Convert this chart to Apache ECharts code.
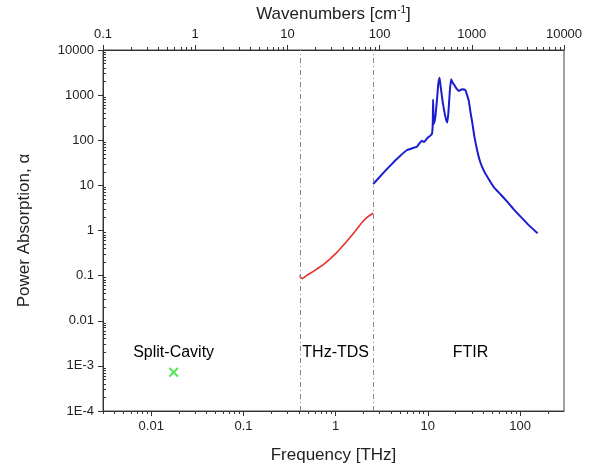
<!DOCTYPE html>
<html><head><meta charset="utf-8">
<script src="https://cdn.jsdelivr.net/npm/echarts@6/dist/echarts.min.js"></script>
<style>html,body{margin:0;padding:0;background:#fff}#c{width:593px;height:469px}</style>
</head><body><div id="c"></div>
<script>
// ---- data ----
const thzFreq  = [0.405, 0.436, 0.483, 0.59, 0.758, 0.975, 1.254, 1.612, 1.922, 2.236, 2.55];
const thzAlpha = [0.10, 0.086, 0.10, 0.129, 0.184, 0.292, 0.511, 0.94, 1.49, 2.02, 2.41];

const ftirFreq  = [2.55, 3.0, 3.45, 3.89, 4.4, 5.0, 5.91, 7.0, 7.6, 8.1, 8.6, 9.1, 10.0, 10.6, 11.1, 11.3, 11.4, 11.6, 12.0, 12.5, 13.0, 13.4, 13.8, 14.5, 15.5, 16.2, 16.7, 17.3, 17.9, 18.5, 19.1, 20.0, 21.7, 23.5, 25.5, 26.8, 27.8, 29.0, 30.3, 32.0, 34.4, 37.0, 40.6, 46.0, 52.2, 62.0, 73.0, 86.0, 102, 125, 155];
const ftirAlpha = [10.7, 15.3, 21, 27.1, 35, 45, 60, 68, 72, 85, 97, 92, 115, 125, 140, 230, 800, 230, 300, 700, 1800, 2440, 1500, 700, 330, 247, 400, 1200, 2249, 1900, 1742, 1500, 1237, 1352, 1295, 960, 744, 420, 250, 120, 58, 33, 21, 13.5, 9.0, 6.2, 4.3, 2.9, 2.0, 1.3, 0.87];

const splitFreq  = [0.0175];
const splitAlpha = [0.00072];

const regionLines = [0.405, 2.55];           // THz boundaries
const regionNames = ['Split-Cavity', 'THz-TDS', 'FTIR'];
const regionNameFreq = [0.0175, 1.0, 29];
const regionNameAlpha = [0.0020, 0.0020, 0.0020];

const freqTicks = [0.01, 0.1, 1, 10, 100];
const waveTicks = [0.1, 1, 10, 100, 1000, 10000];
const alphaTicks = [1e-4, 1e-3, 0.01, 0.1, 1, 10, 100, 1000, 10000];
const alphaTickLabels = ['1E-4', '1E-3', '0.01', '0.1', '1', '10', '100', '1000', '10000'];

const CM_PER_THZ = 33.356;
const waveMin = 0.1, waveMax = 10000;
const freqMin = waveMin / CM_PER_THZ, freqMax = waveMax / CM_PER_THZ;

function minorTicks(lo, hi) {
  const out = [];
  for (let e = Math.floor(Math.log10(lo)) ; e <= Math.ceil(Math.log10(hi)); e++) {
    for (let m = 2; m <= 9; m++) {
      const v = m * Math.pow(10, e);
      if (v >= lo && v <= hi) out.push(v);
    }
  }
  return out;
}

const FONT = 'Liberation Sans, Arial, sans-serif';
const axisColor = '#333';

const chart = echarts.init(document.getElementById('c'), null, {renderer: 'canvas'});

function xMajor(pos, min, max, ticks, name, nameGap, extra) {
  return Object.assign({
    type: 'log', position: pos, min: min, max: max, logBase: 10,
    gridIndex: 0,
    axisLine: {show: true, lineStyle: {color: axisColor, width: 1}},
    axisTick: {show: true, customValues: ticks, length: 5, inside: false, lineStyle: {color: axisColor}},
    axisLabel: {show: true, customValues: ticks, color: '#222', fontFamily: FONT, fontSize: 13, margin: 9,
      formatter: v => String(+v.toPrecision(6))},
    splitLine: {show: false}, minorTick: {show: false},
    name: name, nameLocation: 'middle', nameGap: nameGap,
    nameTextStyle: {color: '#222', fontFamily: FONT, fontSize: 17}
  }, extra || {});
}
function xMinor(pos, min, max) {
  return {
    type: 'log', position: pos, min: min, max: max, logBase: 10, gridIndex: 0,
    axisLine: {show: false},
    axisTick: {show: true, customValues: minorTicks(min, max), length: 3, lineStyle: {color: axisColor}},
    axisLabel: {show: false}, splitLine: {show: false}
  };
}

const option = {
  animation: false,
  backgroundColor: '#fff',
  grid: {left: 103, right: 29, top: 49, bottom: 58, show: true, borderColor: '#444', borderWidth: 1, backgroundColor: 'transparent'},
  xAxis: [
    xMajor('bottom', freqMin, freqMax, freqTicks, 'Frequency [THz]', 36),
    xMinor('bottom', freqMin, freqMax),
    xMajor('top', waveMin, waveMax, waveTicks, 'Wavenumbers [cm{sup|-1}]', 27, {
      nameTextStyle: {color: '#222', fontFamily: FONT, fontSize: 17,
        rich: {sup: {fontSize: 10, verticalAlign: 'top', padding: [0, 0, 8, 0], fontFamily: FONT, color: '#222'}}}
    }),
    xMinor('top', waveMin, waveMax)
  ],
  yAxis: [
    {
      type: 'log', position: 'left', min: 1e-4, max: 1e4, logBase: 10, gridIndex: 0,
      axisLine: {show: true, lineStyle: {color: axisColor}},
      axisTick: {show: true, customValues: alphaTicks, length: 5, lineStyle: {color: axisColor}},
      axisLabel: {show: true, customValues: alphaTicks, color: '#222', fontFamily: FONT, fontSize: 13, margin: 9,
        formatter: v => { const i = alphaTicks.findIndex(t => Math.abs(Math.log10(t) - Math.log10(v)) < 1e-6); return i >= 0 ? alphaTickLabels[i] : ''; }},
      splitLine: {show: false},
      name: 'Power Absorption, α', nameLocation: 'middle', nameGap: 70,
      nameTextStyle: {color: '#222', fontFamily: FONT, fontSize: 17}
    },
    {
      type: 'log', position: 'left', min: 1e-4, max: 1e4, logBase: 10, gridIndex: 0,
      axisLine: {show: false},
      axisTick: {show: true, inside: true, customValues: minorTicks(1e-4, 1e4), length: 3, lineStyle: {color: axisColor}},
      axisLabel: {show: false}, splitLine: {show: false}
    }
  ],
  series: [
    {
      type: 'line', name: 'THz-TDS', xAxisIndex: 0, yAxisIndex: 0,
      data: thzFreq.map((f, i) => [f, thzAlpha[i]]),
      showSymbol: false, symbol: 'none', smooth: 0.2,
      lineStyle: {color: '#e8302a', width: 1.6},
      markLine: {
        silent: true, symbol: 'none', label: {show: false},
        lineStyle: {color: '#888', width: 1, type: [5, 3, 1, 3]},
        data: regionLines.map(v => ({xAxis: v}))
      }
    },
    {
      type: 'line', name: 'FTIR', xAxisIndex: 0, yAxisIndex: 0,
      data: ftirFreq.map((f, i) => [f, ftirAlpha[i]]),
      showSymbol: false, symbol: 'none', smooth: 0.15,
      lineStyle: {color: '#1c1cd0', width: 2}
    },
    {
      type: 'scatter', name: 'Split-Cavity', xAxisIndex: 0, yAxisIndex: 0,
      data: splitFreq.map((f, i) => [f, splitAlpha[i]]),
      symbol: 'path://M0,1.5 L1.5,0 L5,3.5 L8.5,0 L10,1.5 L6.5,5 L10,8.5 L8.5,10 L5,6.5 L1.5,10 L0,8.5 L3.5,5 Z',
      symbolSize: 10,
      itemStyle: {color: '#2ee02e'}
    },
    {
      type: 'scatter', name: 'labels', xAxisIndex: 0, yAxisIndex: 0,
      data: regionNames.map((n, i) => ({value: [regionNameFreq[i], regionNameAlpha[i]], name: n})),
      symbol: 'circle', symbolSize: 2, itemStyle: {color: 'rgba(0,0,0,0)'},
      label: {show: true, position: 'inside', formatter: p => p.name, color: '#000', opacity: 1, fontFamily: FONT, fontSize: 16},
      emphasis: {disabled: true},
      silent: true
    }
  ]
};
chart.setOption(option);
</script>
</body></html>
